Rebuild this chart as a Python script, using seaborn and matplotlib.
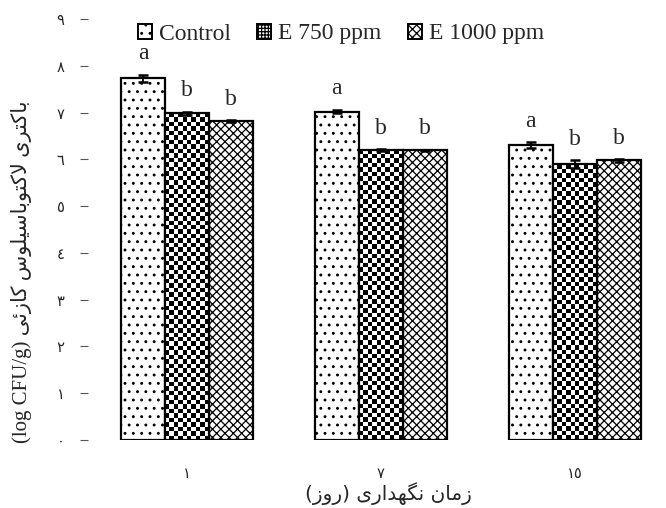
import numpy as np
import pandas as pd
import matplotlib
matplotlib.use("Agg")
import matplotlib.pyplot as plt
from matplotlib.colors import ListedColormap
from matplotlib.patches import Patch
import seaborn as sns

# ---------------- data ----------------
days = ["١", "٧", "١٥"]
treatments = ["Control", "E 750 ppm", "E 1000 ppm"]
control = [7.73, 7.02, 6.30]
e750 = [6.98, 6.20, 5.90]
e1000 = [6.82, 6.19, 5.98]
err_control = [0.08, 0.04, 0.06]
err_e750 = [0.04, 0.02, 0.08]
err_e1000 = [0.02, 0.02, 0.03]
letters_control = ["a", "a", "a"]
letters_e750 = ["b", "b", "b"]
letters_e1000 = ["b", "b", "b"]
ytick_labels = ["٠", "١", "٢", "٣", "٤", "٥", "٦", "٧", "٨", "٩"]
xlabel_fa = "زمان نگهداری (روز)"
ylabel_fa = "باکتری لاکتوباسیلوس کازئی"
ylabel_unit = "(log CFU/g)"

# ------------- minimal Persian shaping (matplotlib has no bidi/shaping) -------------
FORMS = {
    'ا': ('\uFE8D', '\uFE8E', None, None),
    'ب': ('\uFE8F', '\uFE90', '\uFE91', '\uFE92'),
    'ت': ('\uFE95', '\uFE96', '\uFE97', '\uFE98'),
    'د': ('\uFEA9', '\uFEAA', None, None),
    'ر': ('\uFEAD', '\uFEAE', None, None),
    'ز': ('\uFEAF', '\uFEB0', None, None),
    'س': ('\uFEB1', '\uFEB2', '\uFEB3', '\uFEB4'),
    'ل': ('\uFEDD', '\uFEDE', '\uFEDF', '\uFEE0'),
    'م': ('\uFEE1', '\uFEE2', '\uFEE3', '\uFEE4'),
    'ن': ('\uFEE5', '\uFEE6', '\uFEE7', '\uFEE8'),
    'ه': ('\uFEE9', '\uFEEA', '\uFEEB', '\uFEEC'),
    'و': ('\uFEED', '\uFEEE', None, None),
    'ئ': ('\uFE89', '\uFE8A', '\uFE8B', '\uFE8C'),
    'ک': ('\uFB8E', '\uFB8F', '\uFB90', '\uFB91'),
    'گ': ('\uFB92', '\uFB93', '\uFB94', '\uFB95'),
    'ی': ('\uFBFC', '\uFBFD', '\uFBFE', '\uFBFF'),
}


def shape(s):
    out = []
    i = 0
    n = len(s)
    while i < n:
        c = s[i]
        if c not in FORMS:
            out.append(c)
            i += 1
            continue
        prev = s[i - 1] if i > 0 else None
        jp = prev in FORMS and FORMS[prev][2] is not None
        if c == 'ل' and i + 1 < n and s[i + 1] == 'ا':
            out.append('\uFEFC' if jp else '\uFEFB')
            i += 2
            continue
        nxt = s[i + 1] if i + 1 < n else None
        iso, fin, ini, med = FORMS[c]
        jn = ini is not None and nxt in FORMS
        out.append(med if (jp and jn) else fin if jp else ini if jn else iso)
        i += 1
    return ''.join(out)


def rtl(s):
    return shape(s)[::-1].translate(str.maketrans('()', ')('))


# ---------------- figure ----------------
sns.set_style("white")
plt.rcParams['font.family'] = ['Liberation Serif', 'DejaVu Sans']
plt.rcParams['hatch.linewidth'] = 0.9

df = pd.DataFrame({
    "day": days * 3,
    "treatment": [t for t in treatments for _ in days],
    "value": control + e750 + e1000,
})

W, H = 666, 508
fig = plt.figure(figsize=(W / 100, H / 100), dpi=100)
ax = fig.add_axes([88 / W, (H - 440) / H, (660 - 88) / W, (440 - 19) / H])

sns.barplot(data=df, x="day", y="value", hue="treatment", order=days,
            hue_order=treatments, palette=["white"] * 3, edgecolor="black",
            linewidth=1.6, width=0.68, errorbar=None, legend=False, ax=ax,
            saturation=1)

ax.set_xlim(-0.51, 2.44)
ax.set_ylim(0, 9)

bar_conts = list(ax.containers)
errs = [err_control, err_e750, err_e1000]
lets = [letters_control, letters_e750, letters_e1000]
hatches = ["..", None, "xxxx"]

for k, cont in enumerate(bar_conts):
    bars = list(cont)
    xs = [b.get_x() + b.get_width() / 2 for b in bars]
    ys = [b.get_height() for b in bars]
    for b in bars:
        if hatches[k]:
            b.set_hatch(hatches[k])
    ax.errorbar(xs, ys, yerr=errs[k], fmt="none", ecolor="black",
                elinewidth=1.3, capsize=3.6, capthick=1.8, zorder=6)
    for x, y, e, t in zip(xs, ys, errs[k], lets[k]):
        ax.annotate(t, (x, y + e), xytext=(0, 11), textcoords="offset points",
                    ha="center", va="baseline", fontsize=17,
                    family="Liberation Serif")

# checkerboard fill for E 750 ppm bars
checker_cmap = ListedColormap(["white", "black"])
for b in list(bar_conts[1]):
    x0, y0 = b.get_x(), b.get_y()
    x1, y1 = x0 + b.get_width(), y0 + b.get_height()
    (px0, py0), (px1, py1) = ax.transData.transform([(x0, y0), (x1, y1)])
    nx = max(1, int(round((px1 - px0) / 4.5)))
    ny = max(1, int(round((py1 - py0) / 4.5)))
    arr = np.add.outer(np.arange(ny), np.arange(nx)) % 2
    z = b.get_zorder()
    im = ax.imshow(arr, cmap=checker_cmap, extent=(x0, x1, y0, y1),
                   origin="lower", aspect="auto", interpolation="nearest",
                   zorder=z + 0.2)
    im.set_clip_path(b)
    b.set_facecolor("none")
    b.set_zorder(z + 0.4)

ax.set_xlim(-0.51, 2.44)
ax.set_ylim(0, 9)
ax.set_aspect("auto")

for s in ax.spines.values():
    s.set_visible(False)

ax.set_yticks(range(10))
ax.set_yticklabels(ytick_labels, family="DejaVu Sans", fontsize=10.5)
ax.tick_params(axis="y", left=True, length=6, width=0.8, color="#555555",
               pad=11, direction="out")
ax.set_xticks(range(3))
ax.set_xticklabels(days, family="DejaVu Sans", fontsize=10.5)
ax.tick_params(axis="x", bottom=False, length=0, pad=19)

ax.set_xlabel(rtl(xlabel_fa), family="DejaVu Sans", fontsize=14.5)
ax.xaxis.set_label_coords(388 / W, 1 - 482 / H, transform=fig.transFigure)
ax.set_ylabel(ylabel_unit + " " + rtl(ylabel_fa), fontsize=15)
ax.yaxis.set_label_coords(32 / W, 1 - 272 / H, transform=fig.transFigure)

handles = [
    Patch(facecolor="white", edgecolor="black", hatch="..", linewidth=1.4),
    Patch(facecolor="white", edgecolor="black", hatch="+++++", linewidth=1.4),
    Patch(facecolor="white", edgecolor="black", hatch="xxxx", linewidth=1.4),
]
fig.legend(handles, treatments, loc="center", bbox_to_anchor=(341 / W, 1 - 34 / H),
           ncol=3, frameon=False, handlelength=0.6,
           handleheight=0.6, handletextpad=0.3, columnspacing=1.1,
           prop={"family": "Liberation Serif", "size": 17})

fig.savefig("out.png", dpi=100)
